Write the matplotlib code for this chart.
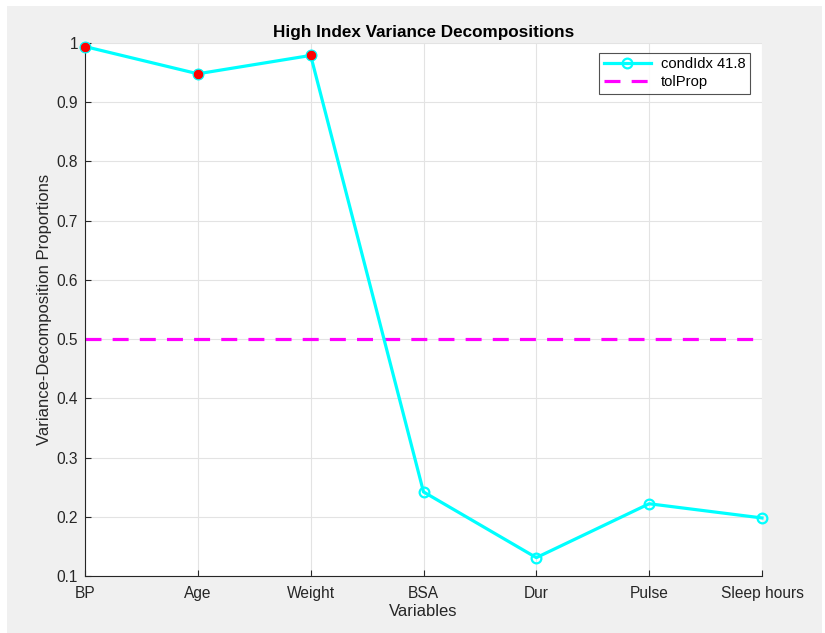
import matplotlib
matplotlib.use("Agg")
import matplotlib.pyplot as plt
from matplotlib.patches import Rectangle
import numpy as np

variables = ["BP", "Age", "Weight", "BSA", "Dur", "Pulse", "Sleep hours"]
vdp = [0.994, 0.948, 0.979, 0.242, 0.131, 0.222, 0.198]
tol_prop = 0.5
cond_idx_label = "condIdx 41.8"
y_ticks = [0.1, 0.2, 0.3, 0.4, 0.5, 0.6, 0.7, 0.8, 0.9, 1.0]
y_tick_labels = ["0.1", "0.2", "0.3", "0.4", "0.5", "0.6", "0.7", "0.8", "0.9", "1"]

plt.rcParams['font.family'] = ['Liberation Sans', 'DejaVu Sans']

W, H = 825, 633
fig = plt.figure(figsize=(W / 100, H / 100), dpi=100, facecolor='white')
fig.patches.append(Rectangle((7 / W, 0), (822 - 7) / W, (627) / H,
                             transform=fig.transFigure, facecolor='#f0f0f0',
                             edgecolor='none', zorder=-10))

ax = fig.add_axes([85 / W, 1 - 576 / H, (762 - 85) / W, (576 - 43) / H])
ax.set_facecolor('white')

x = np.arange(1, len(variables) + 1)
ax.plot(x, vdp, color='cyan', lw=2.3, marker='o', markersize=7,
        markerfacecolor='none', markeredgecolor='cyan', markeredgewidth=1.6,
        label=cond_idx_label, zorder=3, clip_on=False)
ax.axhline(tol_prop, color='magenta', lw=2.3, ls=(0, (5, 3.5)), label='tolProp', zorder=2)

vdp_arr = np.array(vdp)
mask = vdp_arr > tol_prop
ax.plot(x[mask], vdp_arr[mask], ls='none', marker='o', markersize=7.5,
        markerfacecolor='red', markeredgecolor='cyan', markeredgewidth=0.6,
        zorder=4, clip_on=False)

ax.set_xlim(1, len(variables))
ax.set_ylim(0.1, 1.0)
ax.set_xticks(x)
ax.set_xticklabels(variables)
ax.set_yticks(y_ticks)
ax.set_yticklabels(y_tick_labels)

ax.grid(True, color='#e3e3e3', lw=0.8)
ax.set_axisbelow(True)
for s in ['top', 'right']:
    ax.spines[s].set_visible(False)
for s in ['left', 'bottom']:
    ax.spines[s].set_color('#262626')
    ax.spines[s].set_linewidth(0.8)

ax.tick_params(direction='in', length=4, width=0.8, colors='#262626',
               labelsize=11.2, labelcolor='#262626')
ax.tick_params(axis='x', pad=7.5)
ax.tick_params(axis='y', pad=5)

ax.set_title("High Index Variance Decompositions", fontsize=12.3, fontweight='bold',
             color='black', pad=4)
ax.set_xlabel("Variables", fontsize=12, color='#262626', labelpad=2)
ax.set_ylabel("Variance-Decomposition Proportions", fontsize=12, color='#262626', labelpad=3)

leg = ax.legend(loc='upper right', bbox_to_anchor=((750 - 85) / 677, (576 - 53) / 533),
                fontsize=10.6, frameon=True, fancybox=False, handlelength=3.2,
                borderpad=0.3, labelspacing=0.25, handletextpad=0.7,
                borderaxespad=0)
leg.get_frame().set_edgecolor('#262626')
leg.get_frame().set_linewidth(0.8)

fig.savefig("out.png", dpi=100, facecolor='white')
